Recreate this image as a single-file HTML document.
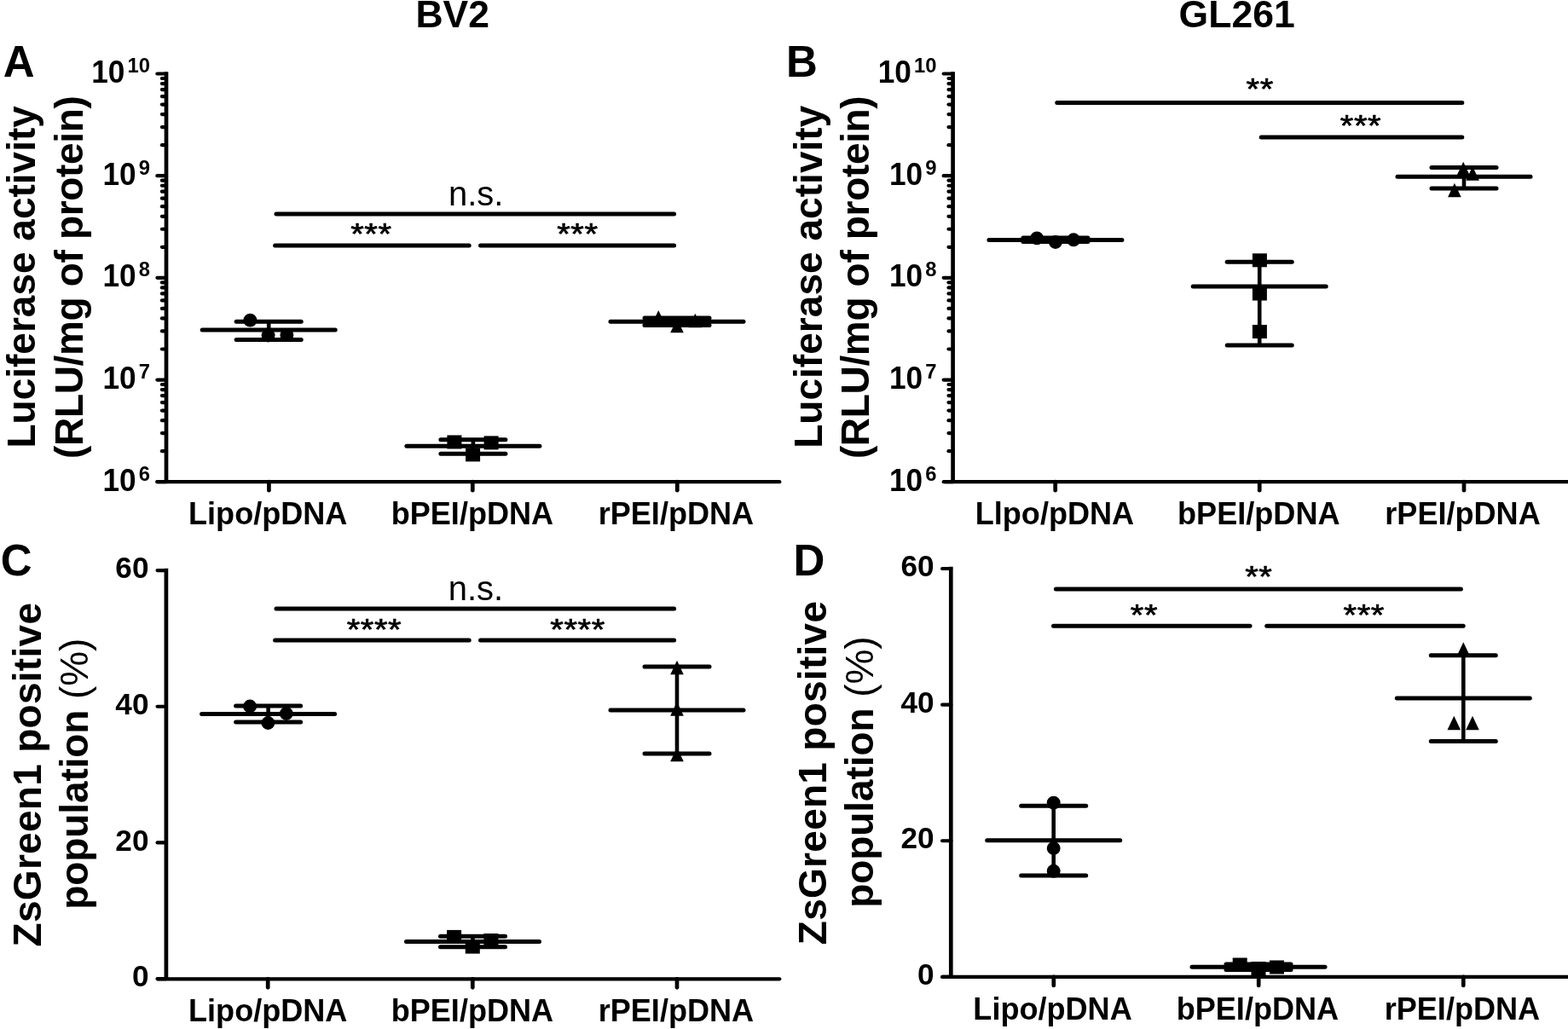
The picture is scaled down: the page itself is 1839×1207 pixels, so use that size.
<!DOCTYPE html>
<html><head><meta charset="utf-8"><title>Figure</title>
<style>html,body{margin:0;padding:0;background:#fff;overflow:hidden}svg{display:block;filter:blur(0.6px)}</style>
</head><body>
<svg width="1839" height="1207" viewBox="0 0 1839 1207">
<rect width="1839" height="1207" fill="#fff"/>
<g fill="#000" stroke="#000" font-family="'Liberation Sans', Arial, Helvetica, sans-serif">
<g stroke="none">
<text x="487.40" y="31.80" font-size="44.5" font-weight="bold" text-anchor="start" >BV2</text>
<text x="1382.60" y="32.40" font-size="44.5" font-weight="bold" text-anchor="start" >GL261</text>
<text x="3.70" y="90.00" font-size="51" font-weight="bold" text-anchor="start" >A</text>
<text x="921.90" y="89.75" font-size="51" font-weight="bold" text-anchor="start" >B</text>
<text x="0.70" y="675.10" font-size="51" font-weight="bold" text-anchor="start" >C</text>
<text x="930.60" y="675.25" font-size="51" font-weight="bold" text-anchor="start" >D</text>
</g>
<line x1="195.00" y1="84.15" x2="195.00" y2="565.20" stroke-width="4.7" stroke-linecap="butt"/>
<line x1="184.40" y1="565.20" x2="195.00" y2="565.20" stroke-width="4.2" stroke-linecap="round"/>
<line x1="184.40" y1="445.53" x2="195.00" y2="445.53" stroke-width="4.2" stroke-linecap="round"/>
<line x1="184.40" y1="325.85" x2="195.00" y2="325.85" stroke-width="4.2" stroke-linecap="round"/>
<line x1="184.40" y1="206.18" x2="195.00" y2="206.18" stroke-width="4.2" stroke-linecap="round"/>
<line x1="184.40" y1="86.50" x2="195.00" y2="86.50" stroke-width="4.2" stroke-linecap="round"/>
<line x1="189.90" y1="529.17" x2="195.00" y2="529.17" stroke-width="4.2" stroke-linecap="round"/>
<line x1="189.90" y1="508.10" x2="195.00" y2="508.10" stroke-width="4.2" stroke-linecap="round"/>
<line x1="189.90" y1="493.15" x2="195.00" y2="493.15" stroke-width="4.2" stroke-linecap="round"/>
<line x1="189.90" y1="481.55" x2="195.00" y2="481.55" stroke-width="4.2" stroke-linecap="round"/>
<line x1="189.90" y1="472.07" x2="195.00" y2="472.07" stroke-width="4.2" stroke-linecap="round"/>
<line x1="189.90" y1="464.06" x2="195.00" y2="464.06" stroke-width="4.2" stroke-linecap="round"/>
<line x1="189.90" y1="457.12" x2="195.00" y2="457.12" stroke-width="4.2" stroke-linecap="round"/>
<line x1="189.90" y1="451.00" x2="195.00" y2="451.00" stroke-width="4.2" stroke-linecap="round"/>
<line x1="189.90" y1="409.50" x2="195.00" y2="409.50" stroke-width="4.2" stroke-linecap="round"/>
<line x1="189.90" y1="388.43" x2="195.00" y2="388.43" stroke-width="4.2" stroke-linecap="round"/>
<line x1="189.90" y1="373.47" x2="195.00" y2="373.47" stroke-width="4.2" stroke-linecap="round"/>
<line x1="189.90" y1="361.88" x2="195.00" y2="361.88" stroke-width="4.2" stroke-linecap="round"/>
<line x1="189.90" y1="352.40" x2="195.00" y2="352.40" stroke-width="4.2" stroke-linecap="round"/>
<line x1="189.90" y1="344.39" x2="195.00" y2="344.39" stroke-width="4.2" stroke-linecap="round"/>
<line x1="189.90" y1="337.45" x2="195.00" y2="337.45" stroke-width="4.2" stroke-linecap="round"/>
<line x1="189.90" y1="331.33" x2="195.00" y2="331.33" stroke-width="4.2" stroke-linecap="round"/>
<line x1="189.90" y1="289.82" x2="195.00" y2="289.82" stroke-width="4.2" stroke-linecap="round"/>
<line x1="189.90" y1="268.75" x2="195.00" y2="268.75" stroke-width="4.2" stroke-linecap="round"/>
<line x1="189.90" y1="253.80" x2="195.00" y2="253.80" stroke-width="4.2" stroke-linecap="round"/>
<line x1="189.90" y1="242.20" x2="195.00" y2="242.20" stroke-width="4.2" stroke-linecap="round"/>
<line x1="189.90" y1="232.72" x2="195.00" y2="232.72" stroke-width="4.2" stroke-linecap="round"/>
<line x1="189.90" y1="224.71" x2="195.00" y2="224.71" stroke-width="4.2" stroke-linecap="round"/>
<line x1="189.90" y1="217.77" x2="195.00" y2="217.77" stroke-width="4.2" stroke-linecap="round"/>
<line x1="189.90" y1="211.65" x2="195.00" y2="211.65" stroke-width="4.2" stroke-linecap="round"/>
<line x1="189.90" y1="170.15" x2="195.00" y2="170.15" stroke-width="4.2" stroke-linecap="round"/>
<line x1="189.90" y1="149.08" x2="195.00" y2="149.08" stroke-width="4.2" stroke-linecap="round"/>
<line x1="189.90" y1="134.12" x2="195.00" y2="134.12" stroke-width="4.2" stroke-linecap="round"/>
<line x1="189.90" y1="122.53" x2="195.00" y2="122.53" stroke-width="4.2" stroke-linecap="round"/>
<line x1="189.90" y1="113.05" x2="195.00" y2="113.05" stroke-width="4.2" stroke-linecap="round"/>
<line x1="189.90" y1="105.04" x2="195.00" y2="105.04" stroke-width="4.2" stroke-linecap="round"/>
<line x1="189.90" y1="98.10" x2="195.00" y2="98.10" stroke-width="4.2" stroke-linecap="round"/>
<line x1="189.90" y1="91.98" x2="195.00" y2="91.98" stroke-width="4.2" stroke-linecap="round"/>
<line x1="184.40" y1="565.20" x2="914.30" y2="565.20" stroke-width="4.2" stroke-linecap="round"/>
<line x1="315.40" y1="565.20" x2="315.40" y2="575.20" stroke-width="4.7" stroke-linecap="round"/>
<line x1="554.30" y1="565.20" x2="554.30" y2="575.20" stroke-width="4.7" stroke-linecap="round"/>
<line x1="794.30" y1="565.20" x2="794.30" y2="575.20" stroke-width="4.7" stroke-linecap="round"/>
<line x1="1117.60" y1="84.15" x2="1117.60" y2="565.20" stroke-width="4.7" stroke-linecap="butt"/>
<line x1="1106.70" y1="565.20" x2="1117.60" y2="565.20" stroke-width="4.2" stroke-linecap="round"/>
<line x1="1106.70" y1="445.53" x2="1117.60" y2="445.53" stroke-width="4.2" stroke-linecap="round"/>
<line x1="1106.70" y1="325.85" x2="1117.60" y2="325.85" stroke-width="4.2" stroke-linecap="round"/>
<line x1="1106.70" y1="206.18" x2="1117.60" y2="206.18" stroke-width="4.2" stroke-linecap="round"/>
<line x1="1106.70" y1="86.50" x2="1117.60" y2="86.50" stroke-width="4.2" stroke-linecap="round"/>
<line x1="1112.50" y1="529.17" x2="1117.60" y2="529.17" stroke-width="4.2" stroke-linecap="round"/>
<line x1="1112.50" y1="508.10" x2="1117.60" y2="508.10" stroke-width="4.2" stroke-linecap="round"/>
<line x1="1112.50" y1="493.15" x2="1117.60" y2="493.15" stroke-width="4.2" stroke-linecap="round"/>
<line x1="1112.50" y1="481.55" x2="1117.60" y2="481.55" stroke-width="4.2" stroke-linecap="round"/>
<line x1="1112.50" y1="472.07" x2="1117.60" y2="472.07" stroke-width="4.2" stroke-linecap="round"/>
<line x1="1112.50" y1="464.06" x2="1117.60" y2="464.06" stroke-width="4.2" stroke-linecap="round"/>
<line x1="1112.50" y1="457.12" x2="1117.60" y2="457.12" stroke-width="4.2" stroke-linecap="round"/>
<line x1="1112.50" y1="451.00" x2="1117.60" y2="451.00" stroke-width="4.2" stroke-linecap="round"/>
<line x1="1112.50" y1="409.50" x2="1117.60" y2="409.50" stroke-width="4.2" stroke-linecap="round"/>
<line x1="1112.50" y1="388.43" x2="1117.60" y2="388.43" stroke-width="4.2" stroke-linecap="round"/>
<line x1="1112.50" y1="373.47" x2="1117.60" y2="373.47" stroke-width="4.2" stroke-linecap="round"/>
<line x1="1112.50" y1="361.88" x2="1117.60" y2="361.88" stroke-width="4.2" stroke-linecap="round"/>
<line x1="1112.50" y1="352.40" x2="1117.60" y2="352.40" stroke-width="4.2" stroke-linecap="round"/>
<line x1="1112.50" y1="344.39" x2="1117.60" y2="344.39" stroke-width="4.2" stroke-linecap="round"/>
<line x1="1112.50" y1="337.45" x2="1117.60" y2="337.45" stroke-width="4.2" stroke-linecap="round"/>
<line x1="1112.50" y1="331.33" x2="1117.60" y2="331.33" stroke-width="4.2" stroke-linecap="round"/>
<line x1="1112.50" y1="289.82" x2="1117.60" y2="289.82" stroke-width="4.2" stroke-linecap="round"/>
<line x1="1112.50" y1="268.75" x2="1117.60" y2="268.75" stroke-width="4.2" stroke-linecap="round"/>
<line x1="1112.50" y1="253.80" x2="1117.60" y2="253.80" stroke-width="4.2" stroke-linecap="round"/>
<line x1="1112.50" y1="242.20" x2="1117.60" y2="242.20" stroke-width="4.2" stroke-linecap="round"/>
<line x1="1112.50" y1="232.72" x2="1117.60" y2="232.72" stroke-width="4.2" stroke-linecap="round"/>
<line x1="1112.50" y1="224.71" x2="1117.60" y2="224.71" stroke-width="4.2" stroke-linecap="round"/>
<line x1="1112.50" y1="217.77" x2="1117.60" y2="217.77" stroke-width="4.2" stroke-linecap="round"/>
<line x1="1112.50" y1="211.65" x2="1117.60" y2="211.65" stroke-width="4.2" stroke-linecap="round"/>
<line x1="1112.50" y1="170.15" x2="1117.60" y2="170.15" stroke-width="4.2" stroke-linecap="round"/>
<line x1="1112.50" y1="149.08" x2="1117.60" y2="149.08" stroke-width="4.2" stroke-linecap="round"/>
<line x1="1112.50" y1="134.12" x2="1117.60" y2="134.12" stroke-width="4.2" stroke-linecap="round"/>
<line x1="1112.50" y1="122.53" x2="1117.60" y2="122.53" stroke-width="4.2" stroke-linecap="round"/>
<line x1="1112.50" y1="113.05" x2="1117.60" y2="113.05" stroke-width="4.2" stroke-linecap="round"/>
<line x1="1112.50" y1="105.04" x2="1117.60" y2="105.04" stroke-width="4.2" stroke-linecap="round"/>
<line x1="1112.50" y1="98.10" x2="1117.60" y2="98.10" stroke-width="4.2" stroke-linecap="round"/>
<line x1="1112.50" y1="91.98" x2="1117.60" y2="91.98" stroke-width="4.2" stroke-linecap="round"/>
<line x1="1108.10" y1="565.20" x2="1842.90" y2="565.20" stroke-width="4.2" stroke-linecap="round"/>
<line x1="1237.70" y1="565.20" x2="1237.70" y2="575.20" stroke-width="4.7" stroke-linecap="round"/>
<line x1="1477.20" y1="565.20" x2="1477.20" y2="575.20" stroke-width="4.7" stroke-linecap="round"/>
<line x1="1717.00" y1="565.20" x2="1717.00" y2="575.20" stroke-width="4.7" stroke-linecap="round"/>
<line x1="194.90" y1="666.75" x2="194.90" y2="1148.10" stroke-width="4.7" stroke-linecap="butt"/>
<line x1="184.55" y1="1148.10" x2="194.90" y2="1148.10" stroke-width="4.2" stroke-linecap="round"/>
<line x1="184.55" y1="988.43" x2="194.90" y2="988.43" stroke-width="4.2" stroke-linecap="round"/>
<line x1="184.55" y1="828.77" x2="194.90" y2="828.77" stroke-width="4.2" stroke-linecap="round"/>
<line x1="184.55" y1="669.10" x2="194.90" y2="669.10" stroke-width="4.2" stroke-linecap="round"/>
<line x1="184.85" y1="1148.30" x2="914.30" y2="1148.30" stroke-width="4.2" stroke-linecap="round"/>
<line x1="314.20" y1="1148.30" x2="314.20" y2="1158.30" stroke-width="4.7" stroke-linecap="round"/>
<line x1="554.30" y1="1148.30" x2="554.30" y2="1158.30" stroke-width="4.7" stroke-linecap="round"/>
<line x1="794.00" y1="1148.30" x2="794.00" y2="1158.30" stroke-width="4.7" stroke-linecap="round"/>
<line x1="1115.30" y1="664.65" x2="1115.30" y2="1145.90" stroke-width="4.7" stroke-linecap="butt"/>
<line x1="1105.10" y1="1145.90" x2="1115.30" y2="1145.90" stroke-width="4.2" stroke-linecap="round"/>
<line x1="1105.10" y1="986.27" x2="1115.30" y2="986.27" stroke-width="4.2" stroke-linecap="round"/>
<line x1="1105.10" y1="826.63" x2="1115.30" y2="826.63" stroke-width="4.2" stroke-linecap="round"/>
<line x1="1105.10" y1="667.00" x2="1115.30" y2="667.00" stroke-width="4.2" stroke-linecap="round"/>
<line x1="1105.50" y1="1145.90" x2="1842.90" y2="1145.90" stroke-width="4.2" stroke-linecap="round"/>
<line x1="1235.80" y1="1145.90" x2="1235.80" y2="1155.90" stroke-width="4.7" stroke-linecap="round"/>
<line x1="1476.20" y1="1145.90" x2="1476.20" y2="1155.90" stroke-width="4.7" stroke-linecap="round"/>
<line x1="1716.30" y1="1145.90" x2="1716.30" y2="1155.90" stroke-width="4.7" stroke-linecap="round"/>
<g stroke="none">
<text x="176.00" y="563.75" font-size="23.8" font-weight="bold" text-anchor="end" >6</text>
<text transform="translate(159.67,575.60) scale(1,1.04)" font-size="35.2" font-weight="bold" text-anchor="end">10</text>
<text x="176.00" y="444.08" font-size="23.8" font-weight="bold" text-anchor="end" >7</text>
<text transform="translate(159.67,455.93) scale(1,1.04)" font-size="35.2" font-weight="bold" text-anchor="end">10</text>
<text x="176.00" y="324.40" font-size="23.8" font-weight="bold" text-anchor="end" >8</text>
<text transform="translate(159.67,336.25) scale(1,1.04)" font-size="35.2" font-weight="bold" text-anchor="end">10</text>
<text x="176.00" y="204.73" font-size="23.8" font-weight="bold" text-anchor="end" >9</text>
<text transform="translate(159.67,216.58) scale(1,1.04)" font-size="35.2" font-weight="bold" text-anchor="end">10</text>
<text x="176.00" y="85.05" font-size="23.8" font-weight="bold" text-anchor="end" >10</text>
<text transform="translate(146.43,96.90) scale(1,1.04)" font-size="35.2" font-weight="bold" text-anchor="end">10</text>
<text x="1098.50" y="563.75" font-size="23.8" font-weight="bold" text-anchor="end" >6</text>
<text transform="translate(1082.17,575.60) scale(1,1.04)" font-size="35.2" font-weight="bold" text-anchor="end">10</text>
<text x="1098.50" y="444.08" font-size="23.8" font-weight="bold" text-anchor="end" >7</text>
<text transform="translate(1082.17,455.93) scale(1,1.04)" font-size="35.2" font-weight="bold" text-anchor="end">10</text>
<text x="1098.50" y="324.40" font-size="23.8" font-weight="bold" text-anchor="end" >8</text>
<text transform="translate(1082.17,336.25) scale(1,1.04)" font-size="35.2" font-weight="bold" text-anchor="end">10</text>
<text x="1098.50" y="204.73" font-size="23.8" font-weight="bold" text-anchor="end" >9</text>
<text transform="translate(1082.17,216.58) scale(1,1.04)" font-size="35.2" font-weight="bold" text-anchor="end">10</text>
<text x="1098.50" y="85.05" font-size="23.8" font-weight="bold" text-anchor="end" >10</text>
<text transform="translate(1068.93,96.90) scale(1,1.04)" font-size="35.2" font-weight="bold" text-anchor="end">10</text>
<text x="174.50" y="1157.30" font-size="35.2" font-weight="bold" text-anchor="end" >0</text>
<text x="1095.60" y="1155.10" font-size="35.2" font-weight="bold" text-anchor="end" >0</text>
<text x="174.50" y="997.63" font-size="35.2" font-weight="bold" text-anchor="end" >20</text>
<text x="1095.60" y="995.47" font-size="35.2" font-weight="bold" text-anchor="end" >20</text>
<text x="174.50" y="837.97" font-size="35.2" font-weight="bold" text-anchor="end" >40</text>
<text x="1095.60" y="835.83" font-size="35.2" font-weight="bold" text-anchor="end" >40</text>
<text x="174.50" y="678.30" font-size="35.2" font-weight="bold" text-anchor="end" >60</text>
<text x="1095.60" y="676.20" font-size="35.2" font-weight="bold" text-anchor="end" >60</text>
<text x="314.25" y="614.80" font-size="36.1" font-weight="bold" text-anchor="middle" >Lipo/pDNA</text>
<text x="553.90" y="614.80" font-size="36.1" font-weight="bold" text-anchor="middle" >bPEI/pDNA</text>
<text x="792.90" y="614.80" font-size="36.1" font-weight="bold" text-anchor="middle" >rPEI/pDNA</text>
<text x="1236.95" y="614.80" font-size="36.1" font-weight="bold" text-anchor="middle" >Llpo/pDNA</text>
<text x="1476.30" y="614.80" font-size="36.1" font-weight="bold" text-anchor="middle" >bPEI/pDNA</text>
<text x="1715.50" y="614.80" font-size="36.1" font-weight="bold" text-anchor="middle" >rPEI/pDNA</text>
<text x="314.25" y="1197.90" font-size="36.1" font-weight="bold" text-anchor="middle" >Lipo/pDNA</text>
<text x="553.90" y="1197.90" font-size="36.1" font-weight="bold" text-anchor="middle" >bPEI/pDNA</text>
<text x="792.90" y="1197.90" font-size="36.1" font-weight="bold" text-anchor="middle" >rPEI/pDNA</text>
<text x="1234.55" y="1196.00" font-size="36.1" font-weight="bold" text-anchor="middle" >Lipo/pDNA</text>
<text x="1474.90" y="1196.00" font-size="36.1" font-weight="bold" text-anchor="middle" >bPEI/pDNA</text>
<text x="1714.90" y="1196.00" font-size="36.1" font-weight="bold" text-anchor="middle" >rPEI/pDNA</text>
<text transform="translate(41.10,324.83) rotate(-90)" font-size="46" font-weight="bold" text-anchor="middle" textLength="401.3" lengthAdjust="spacing">Luciferase activity</text>
<text transform="translate(96.90,325.02) rotate(-90)" font-size="46" font-weight="bold" text-anchor="middle" textLength="425.8" lengthAdjust="spacing">(RLU/mg of protein)</text>
<text transform="translate(963.60,324.78) rotate(-90)" font-size="46" font-weight="bold" text-anchor="middle" textLength="402.2" lengthAdjust="spacing">Luciferase activity</text>
<text transform="translate(1019.40,325.22) rotate(-90)" font-size="46" font-weight="bold" text-anchor="middle" textLength="425.8" lengthAdjust="spacing">(RLU/mg of protein)</text>
<text transform="translate(47.85,908.71) rotate(-90)" font-size="46" font-weight="bold" text-anchor="middle" textLength="403.4" lengthAdjust="spacing">ZsGreen1 positive</text>
<text transform="translate(102.80,907.70) rotate(-90)" font-size="46" font-weight="bold" text-anchor="middle" textLength="318.0" lengthAdjust="spacing">population <tspan font-weight="normal">(%)</tspan></text>
<text transform="translate(969.20,906.59) rotate(-90)" font-size="46" font-weight="bold" text-anchor="middle" textLength="403.2" lengthAdjust="spacing">ZsGreen1 positive</text>
<text transform="translate(1024.20,905.55) rotate(-90)" font-size="46" font-weight="bold" text-anchor="middle" textLength="318.4" lengthAdjust="spacing">population <tspan font-weight="normal">(%)</tspan></text>
<text x="525.95" y="240.60" font-size="40" font-weight="normal" text-anchor="start" >n.s.</text>
<text transform="translate(411.25,285.90) scale(1,0.88)" font-size="40" font-weight="normal" stroke="#000" stroke-width="0.8" stroke-linejoin="round" letter-spacing="0.55">***</text>
<text transform="translate(653.25,285.90) scale(1,0.88)" font-size="40" font-weight="normal" stroke="#000" stroke-width="0.8" stroke-linejoin="round" letter-spacing="0.55">***</text>
<text transform="translate(1461.55,115.80) scale(1,0.88)" font-size="40" font-weight="normal" stroke="#000" stroke-width="0.8" stroke-linejoin="round" letter-spacing="0.55">**</text>
<text transform="translate(1571.85,159.10) scale(1,0.88)" font-size="40" font-weight="normal" stroke="#000" stroke-width="0.8" stroke-linejoin="round" letter-spacing="0.55">***</text>
<text x="525.75" y="703.85" font-size="40" font-weight="normal" text-anchor="start" >n.s.</text>
<text transform="translate(406.75,749.50) scale(1,0.88)" font-size="40" font-weight="normal" stroke="#000" stroke-width="0.8" stroke-linejoin="round" letter-spacing="0.55">****</text>
<text transform="translate(645.35,749.50) scale(1,0.88)" font-size="40" font-weight="normal" stroke="#000" stroke-width="0.8" stroke-linejoin="round" letter-spacing="0.55">****</text>
<text transform="translate(1460.15,687.50) scale(1,0.88)" font-size="40" font-weight="normal" stroke="#000" stroke-width="0.8" stroke-linejoin="round" letter-spacing="0.55">**</text>
<text transform="translate(1325.85,733.30) scale(1,0.88)" font-size="40" font-weight="normal" stroke="#000" stroke-width="0.8" stroke-linejoin="round" letter-spacing="0.55">**</text>
<text transform="translate(1575.55,733.30) scale(1,0.88)" font-size="40" font-weight="normal" stroke="#000" stroke-width="0.8" stroke-linejoin="round" letter-spacing="0.55">***</text>
</g>
<line x1="324.00" y1="250.90" x2="790.60" y2="250.90" stroke-width="5.0" stroke-linecap="round"/>
<line x1="322.60" y1="287.90" x2="550.20" y2="287.90" stroke-width="5.0" stroke-linecap="round"/>
<line x1="563.50" y1="287.90" x2="790.60" y2="287.90" stroke-width="5.0" stroke-linecap="round"/>
<line x1="1239.80" y1="120.40" x2="1714.80" y2="120.40" stroke-width="5.0" stroke-linecap="round"/>
<line x1="1479.20" y1="161.10" x2="1714.80" y2="161.10" stroke-width="5.0" stroke-linecap="round"/>
<line x1="324.00" y1="714.10" x2="790.60" y2="714.10" stroke-width="5.0" stroke-linecap="round"/>
<line x1="322.60" y1="751.00" x2="550.20" y2="751.00" stroke-width="5.0" stroke-linecap="round"/>
<line x1="563.50" y1="751.00" x2="790.60" y2="751.00" stroke-width="5.0" stroke-linecap="round"/>
<line x1="1238.40" y1="691.00" x2="1713.40" y2="691.00" stroke-width="5.0" stroke-linecap="round"/>
<line x1="1235.50" y1="734.30" x2="1466.00" y2="734.30" stroke-width="5.0" stroke-linecap="round"/>
<line x1="1485.70" y1="734.30" x2="1716.20" y2="734.30" stroke-width="5.0" stroke-linecap="round"/>
<g>
<line x1="277.20" y1="377.20" x2="353.20" y2="377.20" stroke-width="5.0" stroke-linecap="round"/>
<line x1="277.20" y1="398.60" x2="353.20" y2="398.60" stroke-width="5.0" stroke-linecap="round"/>
<line x1="315.20" y1="377.20" x2="315.20" y2="398.60" stroke-width="4.6" stroke-linecap="butt"/>
<line x1="237.20" y1="387.00" x2="393.20" y2="387.00" stroke-width="5.0" stroke-linecap="round"/>
<circle cx="293.40" cy="375.60" r="7.95" stroke="none"/>
<circle cx="314.60" cy="393.50" r="7.95" stroke="none"/>
<circle cx="336.40" cy="393.00" r="7.95" stroke="none"/>
<line x1="516.90" y1="515.80" x2="592.90" y2="515.80" stroke-width="5.0" stroke-linecap="round"/>
<line x1="516.90" y1="532.20" x2="592.90" y2="532.20" stroke-width="5.0" stroke-linecap="round"/>
<line x1="554.90" y1="515.80" x2="554.90" y2="532.20" stroke-width="4.6" stroke-linecap="butt"/>
<line x1="476.90" y1="523.20" x2="632.90" y2="523.20" stroke-width="5.0" stroke-linecap="round"/>
<rect x="524.40" y="510.50" width="17.0" height="16.0" stroke="none"/>
<rect x="546.10" y="525.40" width="17.0" height="16.0" stroke="none"/>
<rect x="567.60" y="511.40" width="17.0" height="16.0" stroke="none"/>
<line x1="756.00" y1="372.90" x2="832.00" y2="372.90" stroke-width="5.0" stroke-linecap="round"/>
<line x1="756.00" y1="381.60" x2="832.00" y2="381.60" stroke-width="5.0" stroke-linecap="round"/>
<line x1="794.00" y1="372.90" x2="794.00" y2="381.60" stroke-width="4.6" stroke-linecap="butt"/>
<line x1="716.00" y1="377.20" x2="872.00" y2="377.20" stroke-width="5.0" stroke-linecap="round"/>
<polygon points="772.30,364.05 780.10,380.35 764.50,380.35" stroke="none"/>
<polygon points="794.00,374.05 801.80,390.35 786.20,390.35" stroke="none"/>
<polygon points="815.30,367.85 823.10,384.15 807.50,384.15" stroke="none"/>
<line x1="1199.90" y1="279.10" x2="1275.90" y2="279.10" stroke-width="5.0" stroke-linecap="round"/>
<line x1="1199.90" y1="283.40" x2="1275.90" y2="283.40" stroke-width="5.0" stroke-linecap="round"/>
<line x1="1237.90" y1="279.10" x2="1237.90" y2="283.40" stroke-width="4.6" stroke-linecap="butt"/>
<line x1="1159.90" y1="281.50" x2="1315.90" y2="281.50" stroke-width="5.0" stroke-linecap="round"/>
<circle cx="1216.10" cy="279.40" r="7.95" stroke="none"/>
<circle cx="1237.90" cy="284.00" r="7.95" stroke="none"/>
<circle cx="1259.10" cy="281.30" r="7.95" stroke="none"/>
<line x1="1439.20" y1="307.30" x2="1515.20" y2="307.30" stroke-width="5.0" stroke-linecap="round"/>
<line x1="1439.20" y1="405.10" x2="1515.20" y2="405.10" stroke-width="5.0" stroke-linecap="round"/>
<line x1="1477.20" y1="307.30" x2="1477.20" y2="405.10" stroke-width="4.6" stroke-linecap="butt"/>
<line x1="1399.20" y1="335.90" x2="1555.20" y2="335.90" stroke-width="5.0" stroke-linecap="round"/>
<rect x="1468.90" y="297.30" width="17.0" height="16.0" stroke="none"/>
<rect x="1468.90" y="336.50" width="17.0" height="16.0" stroke="none"/>
<rect x="1468.90" y="381.00" width="17.0" height="16.0" stroke="none"/>
<line x1="1679.00" y1="196.40" x2="1755.00" y2="196.40" stroke-width="5.0" stroke-linecap="round"/>
<line x1="1679.00" y1="220.90" x2="1755.00" y2="220.90" stroke-width="5.0" stroke-linecap="round"/>
<line x1="1717.00" y1="196.40" x2="1717.00" y2="220.90" stroke-width="4.6" stroke-linecap="butt"/>
<line x1="1639.00" y1="207.30" x2="1795.00" y2="207.30" stroke-width="5.0" stroke-linecap="round"/>
<polygon points="1705.90,214.85 1713.70,231.15 1698.10,231.15" stroke="none"/>
<polygon points="1716.20,189.85 1724.00,206.15 1708.40,206.15" stroke="none"/>
<polygon points="1727.10,195.35 1734.90,211.65 1719.30,211.65" stroke="none"/>
<line x1="276.60" y1="828.00" x2="352.60" y2="828.00" stroke-width="5.0" stroke-linecap="round"/>
<line x1="276.60" y1="847.10" x2="352.60" y2="847.10" stroke-width="5.0" stroke-linecap="round"/>
<line x1="314.60" y1="828.00" x2="314.60" y2="847.10" stroke-width="4.6" stroke-linecap="butt"/>
<line x1="236.60" y1="837.50" x2="392.60" y2="837.50" stroke-width="5.0" stroke-linecap="round"/>
<circle cx="293.10" cy="828.50" r="7.95" stroke="none"/>
<circle cx="314.40" cy="848.00" r="7.95" stroke="none"/>
<circle cx="335.80" cy="837.00" r="7.95" stroke="none"/>
<line x1="516.50" y1="1098.30" x2="592.50" y2="1098.30" stroke-width="5.0" stroke-linecap="round"/>
<line x1="516.50" y1="1110.80" x2="592.50" y2="1110.80" stroke-width="5.0" stroke-linecap="round"/>
<line x1="554.50" y1="1098.30" x2="554.50" y2="1110.80" stroke-width="4.6" stroke-linecap="butt"/>
<line x1="476.50" y1="1104.60" x2="632.50" y2="1104.60" stroke-width="5.0" stroke-linecap="round"/>
<rect x="524.10" y="1090.90" width="17.0" height="16.0" stroke="none"/>
<rect x="545.80" y="1102.60" width="17.0" height="16.0" stroke="none"/>
<rect x="567.40" y="1095.00" width="17.0" height="16.0" stroke="none"/>
<line x1="756.00" y1="782.00" x2="832.00" y2="782.00" stroke-width="5.0" stroke-linecap="round"/>
<line x1="756.00" y1="884.10" x2="832.00" y2="884.10" stroke-width="5.0" stroke-linecap="round"/>
<line x1="794.00" y1="782.00" x2="794.00" y2="884.10" stroke-width="4.6" stroke-linecap="butt"/>
<line x1="716.00" y1="833.10" x2="872.00" y2="833.10" stroke-width="5.0" stroke-linecap="round"/>
<polygon points="794.00,774.85 801.80,791.15 786.20,791.15" stroke="none"/>
<polygon points="794.00,823.35 801.80,839.65 786.20,839.65" stroke="none"/>
<polygon points="794.00,876.85 801.80,893.15 786.20,893.15" stroke="none"/>
<line x1="1197.70" y1="945.20" x2="1273.70" y2="945.20" stroke-width="5.0" stroke-linecap="round"/>
<line x1="1197.70" y1="1027.00" x2="1273.70" y2="1027.00" stroke-width="5.0" stroke-linecap="round"/>
<line x1="1235.70" y1="945.20" x2="1235.70" y2="1027.00" stroke-width="4.6" stroke-linecap="butt"/>
<line x1="1157.70" y1="985.80" x2="1313.70" y2="985.80" stroke-width="5.0" stroke-linecap="round"/>
<circle cx="1235.70" cy="941.70" r="7.95" stroke="none"/>
<circle cx="1235.70" cy="995.00" r="7.95" stroke="none"/>
<circle cx="1235.70" cy="1021.80" r="7.95" stroke="none"/>
<line x1="1438.00" y1="1131.00" x2="1514.00" y2="1131.00" stroke-width="5.0" stroke-linecap="round"/>
<line x1="1438.00" y1="1137.50" x2="1514.00" y2="1137.50" stroke-width="5.0" stroke-linecap="round"/>
<line x1="1476.00" y1="1131.00" x2="1476.00" y2="1137.50" stroke-width="4.6" stroke-linecap="butt"/>
<line x1="1398.00" y1="1134.30" x2="1554.00" y2="1134.30" stroke-width="5.0" stroke-linecap="round"/>
<rect x="1445.70" y="1123.50" width="17.0" height="16.0" stroke="none"/>
<rect x="1467.50" y="1128.00" width="17.0" height="16.0" stroke="none"/>
<rect x="1489.00" y="1126.50" width="17.0" height="16.0" stroke="none"/>
<line x1="1678.30" y1="768.80" x2="1754.30" y2="768.80" stroke-width="5.0" stroke-linecap="round"/>
<line x1="1678.30" y1="869.40" x2="1754.30" y2="869.40" stroke-width="5.0" stroke-linecap="round"/>
<line x1="1716.30" y1="768.80" x2="1716.30" y2="869.40" stroke-width="4.6" stroke-linecap="butt"/>
<line x1="1638.30" y1="819.10" x2="1794.30" y2="819.10" stroke-width="5.0" stroke-linecap="round"/>
<polygon points="1716.30,753.35 1724.10,769.65 1708.50,769.65" stroke="none"/>
<polygon points="1705.30,839.85 1713.10,856.15 1697.50,856.15" stroke="none"/>
<polygon points="1727.00,839.85 1734.80,856.15 1719.20,856.15" stroke="none"/>
</g>
</g></svg>
</body></html>
